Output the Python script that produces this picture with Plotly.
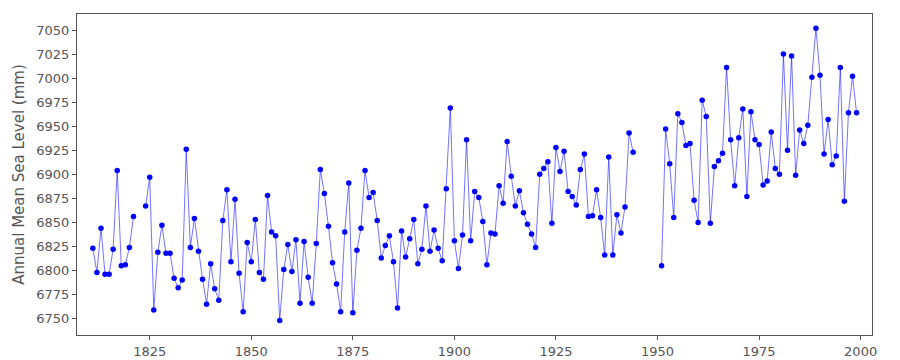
import plotly.graph_objects as go

years = list(range(1811, 2000))

level_values = {
    1811: 6823, 1812: 6798, 1813: 6844, 1814: 6796, 1815: 6796, 1816: 6822,
    1817: 6904, 1818: 6805, 1819: 6806, 1820: 6824, 1821: 6856,
    1824: 6867, 1825: 6897, 1826: 6759, 1827: 6819, 1828: 6847, 1829: 6818,
    1830: 6818, 1831: 6792, 1832: 6782, 1833: 6790, 1834: 6926, 1835: 6824,
    1836: 6854, 1837: 6820, 1838: 6791, 1839: 6765, 1840: 6807, 1841: 6781,
    1842: 6769, 1843: 6852, 1844: 6884, 1845: 6809, 1846: 6874, 1847: 6797,
    1848: 6757, 1849: 6829, 1850: 6809, 1851: 6853, 1852: 6798, 1853: 6791,
    1854: 6878, 1855: 6840, 1856: 6836, 1857: 6748, 1858: 6801, 1859: 6827,
    1860: 6799, 1861: 6832, 1862: 6766, 1863: 6830, 1864: 6793, 1865: 6766,
    1866: 6828, 1867: 6905, 1868: 6880, 1869: 6846, 1870: 6808, 1871: 6786,
    1872: 6757, 1873: 6840, 1874: 6891, 1875: 6756, 1876: 6821, 1877: 6844,
    1878: 6904, 1879: 6876, 1880: 6881, 1881: 6852, 1882: 6813, 1883: 6826,
    1884: 6836, 1885: 6809, 1886: 6761, 1887: 6841, 1888: 6814, 1889: 6833,
    1890: 6853, 1891: 6807, 1892: 6822, 1893: 6867, 1894: 6820, 1895: 6842,
    1896: 6823, 1897: 6810, 1898: 6885, 1899: 6969, 1900: 6831, 1901: 6802,
    1902: 6837, 1903: 6936, 1904: 6831, 1905: 6882, 1906: 6876, 1907: 6851,
    1908: 6806, 1909: 6839, 1910: 6838, 1911: 6888, 1912: 6870, 1913: 6934,
    1914: 6898, 1915: 6867, 1916: 6883, 1917: 6860, 1918: 6848, 1919: 6838,
    1920: 6824, 1921: 6900, 1922: 6906, 1923: 6913, 1924: 6849, 1925: 6928,
    1926: 6903, 1927: 6924, 1928: 6882, 1929: 6877, 1930: 6868, 1931: 6905,
    1932: 6921, 1933: 6856, 1934: 6857, 1935: 6884, 1936: 6855, 1937: 6816,
    1938: 6918, 1939: 6816, 1940: 6858, 1941: 6839, 1942: 6866, 1943: 6943,
    1944: 6923,
    1951: 6805, 1952: 6947, 1953: 6911, 1954: 6855, 1955: 6963, 1956: 6954,
    1957: 6930, 1958: 6932, 1959: 6873, 1960: 6850, 1961: 6977, 1962: 6960,
    1963: 6849, 1964: 6908, 1965: 6914, 1966: 6922, 1967: 7011, 1968: 6936,
    1969: 6888, 1970: 6938, 1971: 6968, 1972: 6877, 1973: 6965, 1974: 6936,
    1975: 6931, 1976: 6889, 1977: 6893, 1978: 6944, 1979: 6906, 1980: 6900,
    1981: 7025, 1982: 6925, 1983: 7023, 1984: 6899, 1985: 6946, 1986: 6932,
    1987: 6951, 1988: 7001, 1989: 7052, 1990: 7003, 1991: 6921, 1992: 6957,
    1993: 6910, 1994: 6919, 1995: 7011, 1996: 6872, 1997: 6964, 1998: 7002,
    1999: 6964,
}
levels = [level_values.get(y) for y in years]

x_ticks = [1825, 1850, 1875, 1900, 1925, 1950, 1975, 2000]
y_ticks = list(range(6750, 7051, 25))

fig = go.Figure()
fig.add_trace(go.Scatter(
    x=years, y=levels, mode="lines+markers",
    connectgaps=False,
    line=dict(color="rgba(0,0,255,0.55)", width=1),
    marker=dict(color="#0000ff", size=5.5),
    showlegend=False,
))

axis_common = dict(
    showline=True, linecolor="#555555", linewidth=1, mirror=True,
    ticks="outside", ticklen=4, tickcolor="#555555",
    showgrid=False, zeroline=False, automargin=False,
    tickfont=dict(family="DejaVu Sans", size=13, color="#555555"),
)
fig.update_xaxes(range=[1807.1, 2002.8], tickvals=x_ticks, **axis_common)
fig.update_yaxes(range=[6732.9, 7066.7], tickvals=y_ticks,
                 title=dict(text="Annual Mean Sea Level (mm)",
                            font=dict(family="DejaVu Sans", size=15, color="#555555"),
                            standoff=8),
                 **axis_common)
fig.update_layout(
    width=900, height=360,
    margin=dict(l=77, r=28, t=14, b=25),
    paper_bgcolor="white", plot_bgcolor="white",
    font=dict(family="DejaVu Sans", color="#555555"),
)
fig.write_html("out.html")
